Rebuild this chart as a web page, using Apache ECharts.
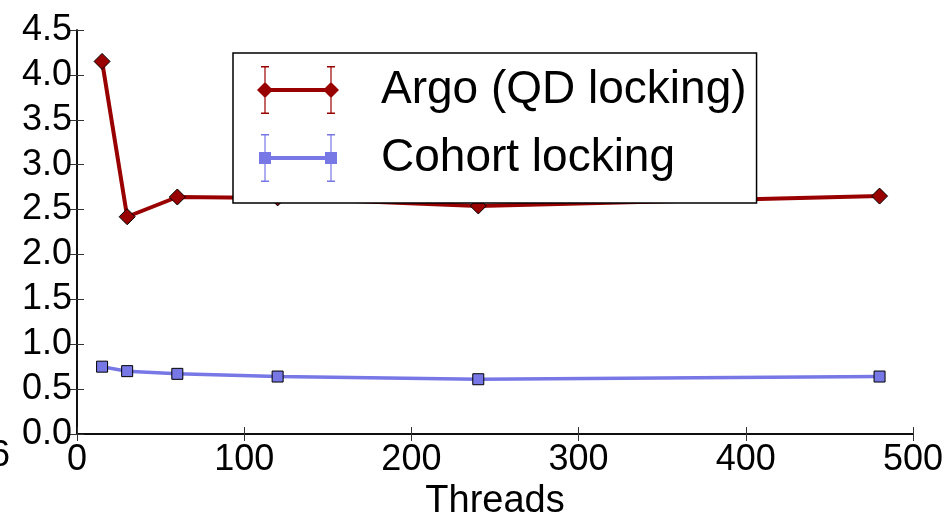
<!DOCTYPE html>
<html>
<head>
<meta charset="utf-8">
<script src="https://cdn.jsdelivr.net/npm/echarts@6/dist/echarts.min.js"></script>
<style>
  html, body { margin: 0; padding: 0; background: #fff; }
  #chart { width: 951px; height: 518px; }
</style>
</head>
<body>
<div id="chart"></div>
<script>
var threads = [15, 30, 60, 120, 240, 480];
var argo = [4.15, 2.42, 2.64, 2.63, 2.54, 2.65];
var cohort = [0.75, 0.70, 0.67, 0.64, 0.61, 0.64];
var names = ['Argo (QD locking)', 'Cohort locking'];

var font = 'Liberation Sans, Arial, sans-serif';
var red = '#990000';
var blue = '#7777e6';

function pairs(ys) {
    return threads.map(function(t, i) { return [t, ys[i]]; });
}

// legend glyphs: line, two markers, error bars (82x48 box)
var bars = 'M7.4 0 H8.6 V48 H7.4 Z M4 0 H12 V1.4 H4 Z M4 46.6 H12 V48 H4 Z ' +
    'M73.4 0 H74.6 V48 H73.4 Z M70 0 H78 V1.4 H70 Z M70 46.6 H78 V48 H70 Z ';
var line = 'M8 22 H74 V26 H8 Z ';
var iconArgo = 'path://' + bars + line + 'M8 16 L16 24 L8 32 L0 24 Z M74 16 L82 24 L74 32 L66 24 Z';
var iconCohort = 'path://' + bars + line + 'M2 18 H14 V30 H2 Z M68 18 H80 V30 H68 Z';

var axisLine = { lineStyle: { color: '#000', width: 1.5 } };
var tick = { inside: true, length: 7, lineStyle: { color: '#333', width: 1 } };

var chart = echarts.init(document.getElementById('chart'));
chart.setOption({
    animation: false,
    textStyle: { fontFamily: font },
    grid: { left: 77, top: 30, right: 38, bottom: 84, outerBoundsMode: 'none', containLabel: false },
    legend: {
        orient: 'vertical',
        left: 233,
        top: 53,
        padding: [13, 10, 21, 24],
        itemWidth: 82,
        itemHeight: 48,
        itemGap: 20,
        backgroundColor: '#fff',
        borderColor: '#000',
        borderWidth: 1.5,
        itemStyle: { borderWidth: 0 },
        textStyle: { fontSize: 46, color: '#000', fontFamily: font, padding: [0, 0, 0, 37] },
        data: [
            { name: names[0], icon: iconArgo },
            { name: names[1], icon: iconCohort }
        ]
    },
    xAxis: [{
        type: 'value', min: 0, max: 500, interval: 100,
        name: 'Threads', nameLocation: 'middle', nameGap: 44,
        nameTextStyle: { fontSize: 38, color: '#000', fontFamily: font },
        axisLine: axisLine, axisTick: tick, splitLine: { show: false },
        axisLabel: { fontSize: 36, color: '#000', margin: 8, fontFamily: font }
    }, {
        type: 'value', position: 'top', min: 0, max: 500, interval: 100,
        axisLine: axisLine, axisTick: tick, splitLine: { show: false },
        axisLabel: { show: false }
    }],
    yAxis: [{
        type: 'value', min: 0, max: 4.5, interval: 0.5,
        axisLine: axisLine, axisTick: tick, splitLine: { show: false },
        axisLabel: {
            fontSize: 36, color: '#000', margin: 5, fontFamily: font,
            formatter: function(v) { return v.toFixed(1); }
        }
    }, {
        type: 'value', position: 'right', min: 0, max: 4.5, interval: 0.5,
        axisLine: axisLine, axisTick: tick, splitLine: { show: false },
        axisLabel: { show: false }
    }],
    graphic: [{
        type: 'text', left: -10, top: 438,
        style: { text: '6', fontSize: 36, fill: '#000', fontFamily: font }
    }],
    series: [{
        name: names[0],
        type: 'line',
        data: pairs(argo),
        symbol: 'diamond',
        symbolSize: [16, 16],
        lineStyle: { color: red, width: 4 },
        itemStyle: { color: red, borderColor: '#000', borderWidth: 1 },
        z: 3
    }, {
        name: names[1],
        type: 'line',
        data: pairs(cohort),
        symbol: 'rect',
        symbolSize: [11, 11],
        lineStyle: { color: blue, width: 3.5 },
        itemStyle: { color: blue, borderColor: '#000', borderWidth: 1 },
        z: 3
    }]
});
</script>
</body>
</html>
